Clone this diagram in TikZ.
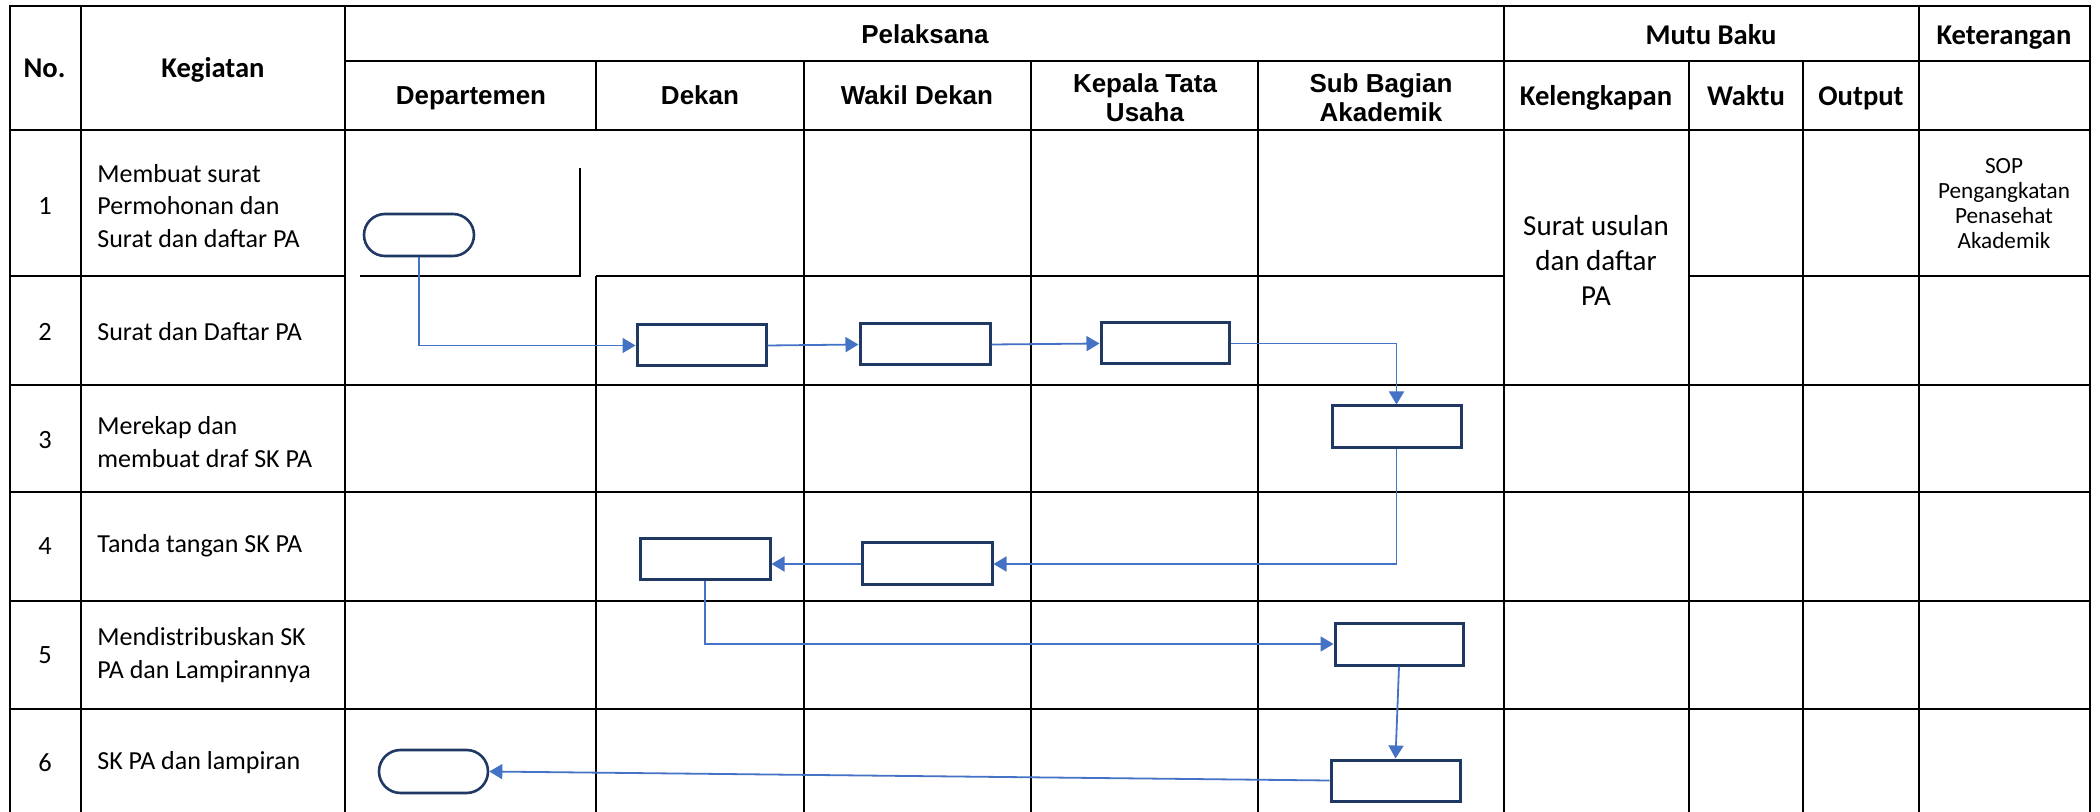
\documentclass[tikz,border=0pt]{standalone}
\usepackage{fontspec}
\setmainfont{Carlito}
\newfontfamily\arialf{Liberation Sans}
\usetikzlibrary{arrows.meta}
\definecolor{flowblue}{HTML}{4472C4}
\definecolor{navyc}{HTML}{1F3864}
\tikzset{
  gridline/.style={line width=1.3pt, black},
  box/.style={draw=navyc, line width=1.5pt, fill=white, inner sep=0pt, minimum width=64.5pt, minimum height=20.5pt},
  term/.style={draw=navyc, line width=1.3pt, fill=white, inner sep=0pt, rounded corners=10.5pt, minimum width=55pt, minimum height=21pt},
  conn/.style={draw=flowblue, line width=0.9pt, -{Triangle[length=6.5pt,width=7.5pt]}},
  hdA/.style={font=\arialf\bfseries\fontsize{13}{14.5}\selectfont, align=center, inner sep=0pt},
  hdC/.style={font=\bfseries\fontsize{14.3}{17}\selectfont, align=center, inner sep=0pt},
  body/.style={font=\fontsize{13}{16.25}\selectfont, align=left, anchor=west, inner sep=0pt},
  num/.style={font=\fontsize{13.2}{16}\selectfont, inner sep=0pt},
}
\begin{document}
\begin{tikzpicture}[x=0.5pt, y=-0.5pt]
\useasboundingbox (0,0) rectangle (2100,812);
% ---- table grid ----
\draw[gridline] (10,812) -- (10,6) -- (2090,6) -- (2090,812);
\foreach \x in {81,345,1504,1919} \draw[gridline] (\x,6) -- (\x,812);
\foreach \x in {804,1031,1258,1689,1803} \draw[gridline] (\x,61) -- (\x,812);
\draw[gridline] (596,61) -- (596,130);
\draw[gridline] (596,276) -- (596,812);
\draw[gridline] (345,61) -- (2090,61);
\draw[gridline] (10,130) -- (2090,130);
\draw[gridline] (10,276) -- (345,276);
\draw[gridline] (360,276) -- (580,276) -- (580,168);
\draw[gridline] (596,276) -- (1504,276);
\draw[gridline] (1689,276) -- (2090,276);
\foreach \y in {385,492,601,709} \draw[gridline] (10,\y) -- (2090,\y);
% ---- headers ----
\node[hdC, anchor=base] (hno) at (44.5,78) {No.};
\node[hdC, anchor=base] (hkeg) at (213,78) {Kegiatan};
\node[hdA, anchor=base] (hpel) at (925,43.5) {Pelaksana};
\node[hdC, anchor=base] (hmutu) at (1711,45) {Mutu Baku};
\node[hdC, anchor=base] (hket) at (2004,45) {Keterangan};
\node[hdA, anchor=base] (hdep) at (471,105) {Departemen};
\node[hdA, anchor=base] (hdek) at (700,105) {Dekan};
\node[hdA, anchor=base] (hwak) at (917,105) {Wakil Dekan};
\node[hdA] (hktu) at (1145,98) {Kepala Tata\\Usaha};
\node[hdA] (hsub) at (1381,98) {Sub Bagian\\Akademik};
\node[hdC, anchor=base] (hkel) at (1596,106) {Kelengkapan};
\node[hdC, anchor=base] (hwkt) at (1746,106) {Waktu};
\node[hdC, anchor=base] (hout) at (1861,106) {Output};
% ---- rows ----
\node[num] (n1) at (45,206) {1};
\node[num] (n2) at (45,332) {2};
\node[num] (n3) at (45,440) {3};
\node[num] (n4) at (45,546) {4};
\node[num] (n5) at (45,655) {5};
\node[num] (n6) at (45,763) {6};
\node[body] (k1) at (97,206) {Membuat surat\\Permohonan dan\\Surat dan daftar PA};
\node[body] (k2) at (97,332) {Surat dan Daftar PA};
\node[body] (k3) at (97,442) {Merekap dan\\membuat draf SK PA};
\node[body] (k4) at (97,546) {Tanda tangan SK PA};
\node[body] (k5) at (97,655) {Mendistribuskan SK\\PA dan Lampirannya};
\node[body] (k6) at (97,763) {SK PA dan lampiran};
\node[font=\fontsize{14.5}{17.5}\selectfont, align=center, inner sep=0pt] (kel) at (1596,260) {Surat usulan\\dan daftar\\PA};
\node[font=\fontsize{11.6}{12.5}\selectfont, align=center, inner sep=0pt] (ket) at (2004,204) {SOP\\Pengangkatan\\Penasehat\\Akademik};
% ---- flow shapes ----
\node[term] (t1) at (419,235) {};
\node[box] (b2a) at (701.5,345.5) {};
\node[box, minimum width=65pt] (b2b) at (925,344.5) {};
\node[box, minimum width=64pt] (b2c) at (1165,343.5) {};
\node[box, minimum height=21pt] (b3) at (1396.5,427) {};
\node[box, minimum width=65pt] (b4a) at (705,559.5) {};
\node[box, minimum width=65pt, minimum height=21pt] (b4b) at (927,564) {};
\node[box, minimum width=64pt, minimum height=21pt] (b5) at (1399,644) {};
\node[box] (b6) at (1395.5,780.5) {};
\node[term, minimum width=54.5pt, minimum height=21.5pt, rounded corners=10.75pt] (t6) at (433.5,771.5) {};
% ---- connectors ----
\draw[conn] (t1.south) |- (b2a.west);
\draw[conn] (b2a.east) -- (b2b.west);
\draw[conn] (b2b.east) -- (b2c.west);
\draw[conn] (b2c.east) -| (b3.north);
\draw[conn] (b3.south) |- (b4b.east);
\draw[conn] (b4b.west) -- (b4a.east |- b4b.west);
\draw[conn] (b4a.south) |- (b5.west);
\draw[conn] (b5.south) -- (b6.north);
\draw[conn] (b6.west) -- (t6.east);
\end{tikzpicture}
\end{document}
